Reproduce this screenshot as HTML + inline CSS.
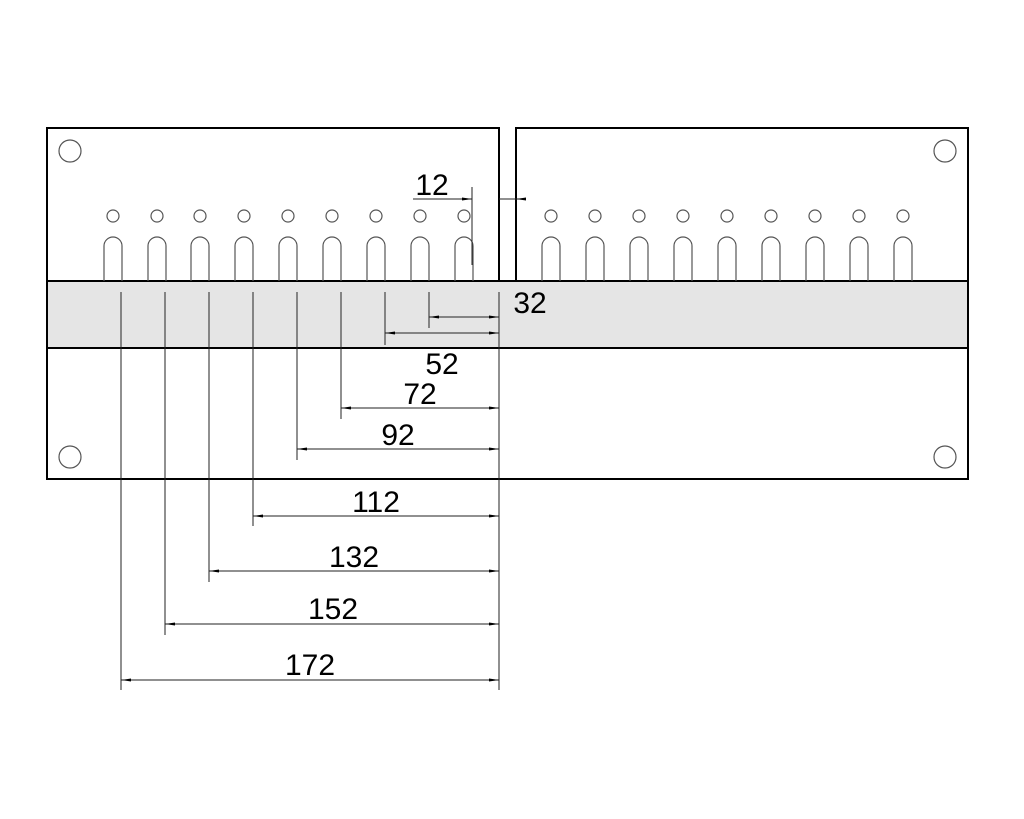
<!DOCTYPE html>
<html><head><style>body{margin:0;background:#fff}svg{display:block}</style></head><body>
<svg width="1024" height="819" viewBox="0 0 1024 819" xmlns="http://www.w3.org/2000/svg" font-family="Liberation Sans, sans-serif">
<defs><marker id="a" viewBox="0 0 10 4" refX="10" refY="2" markerWidth="10" markerHeight="4" orient="auto-start-reverse" markerUnits="userSpaceOnUse"><path d="M0,0.5 L10,2 L0,3.5z" fill="#000"/></marker></defs>
<rect x="47" y="281" width="921" height="67" fill="#e5e5e5"/>
<g fill="none" stroke="#000" stroke-width="2">
<path d="M47,281 V128 H499 V281"/>
<path d="M516,281 V128 H968 V281"/>
<path d="M47,281 H968"/>
<path d="M47,348 H968"/>
<path d="M47,281 V479 H968 V281"/>
</g>
<g fill="none" stroke="#555" stroke-width="1.2">
<circle cx="70" cy="151" r="11"/><circle cx="945" cy="151" r="11"/><circle cx="70" cy="457" r="11"/><circle cx="945" cy="457" r="11"/>
<g id="s">
<circle cx="113" cy="216" r="6"/><path d="M104,281 V246 A9,9 0 0 1 122,246 V281"/>
</g>
<use href="#s" x="44"/><use href="#s" x="87"/><use href="#s" x="131"/><use href="#s" x="175"/><use href="#s" x="219"/><use href="#s" x="263"/><use href="#s" x="307"/><use href="#s" x="351"/>
<use href="#s" x="438"/><use href="#s" x="482"/><use href="#s" x="526"/><use href="#s" x="570"/><use href="#s" x="614"/><use href="#s" x="658"/><use href="#s" x="702"/><use href="#s" x="746"/><use href="#s" x="790"/>
</g>
<g stroke="#222" stroke-width="1" fill="none">
<path d="M499,292 V690"/>
<path d="M429,292 V328"/><path d="M385,292 V345"/><path d="M341,292 V419"/><path d="M297,292 V460"/>
<path d="M253,292 V526"/><path d="M209,292 V582"/><path d="M165,292 V635"/><path d="M121,292 V690"/>
<path d="M472,187 V265"/>
<path d="M413,199 H472"/><path d="M499,199 H520"/>
</g>
<g stroke="#222" stroke-width="1" marker-start="url(#a)" marker-end="url(#a)">
<line x1="429" y1="317" x2="499" y2="317"/>
<line x1="385" y1="333" x2="499" y2="333"/>
<line x1="341" y1="408" x2="499" y2="408"/>
<line x1="297" y1="449" x2="499" y2="449"/>
<line x1="253" y1="516" x2="499" y2="516"/>
<line x1="209" y1="571" x2="499" y2="571"/>
<line x1="165" y1="624" x2="499" y2="624"/>
<line x1="121" y1="680" x2="499" y2="680"/>
</g>
<path d="M462,197.5 L472,199 L462,200.5z M526,197.5 L516,199 L526,200.5z" fill="#000"/>
<g font-size="30" fill="#000" text-anchor="middle">
<text x="432" y="195">12</text>
<text x="530" y="313">32</text>
<text x="442" y="374">52</text>
<text x="420" y="404">72</text>
<text x="398" y="445">92</text>
<text x="376" y="512">112</text>
<text x="354" y="567">132</text>
<text x="333" y="619">152</text>
<text x="310" y="675">172</text>
</g>
</svg>
</body></html>
